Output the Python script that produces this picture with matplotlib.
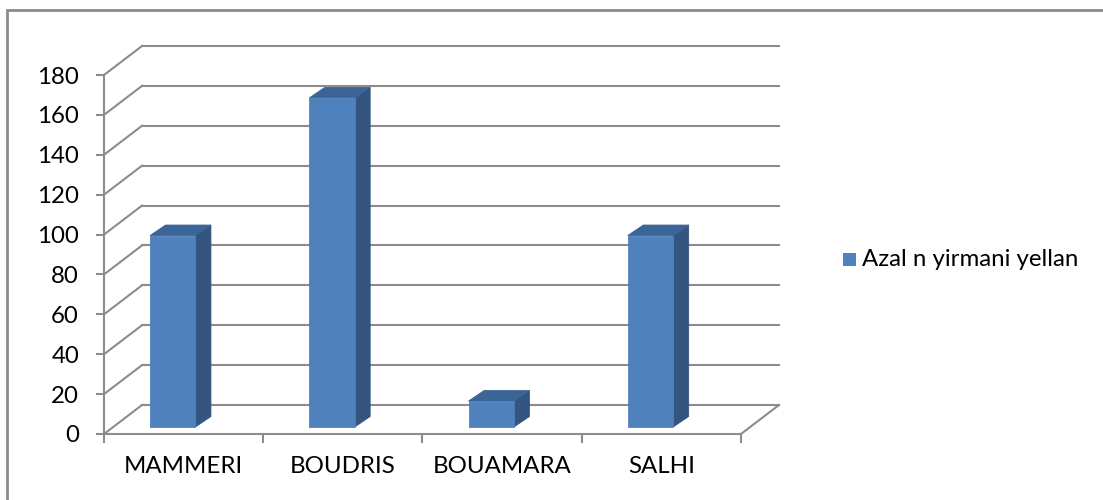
import matplotlib
matplotlib.use('Agg')
import matplotlib.pyplot as plt
from matplotlib.patches import Polygon, Rectangle
from matplotlib.transforms import IdentityTransform
import numpy as np

# data
categories = ['MAMMERI', 'BOUDRIS', 'BOUAMARA', 'SALHI']
values = [96, 165, 13, 96]
y_ticks = [0, 20, 40, 60, 80, 100, 120, 140, 160, 180]
series_name = 'Azal n yirmani yellan'

W, H = 1103, 500
plt.rcParams['font.family'] = ['Lato', 'DejaVu Sans']
FS = 17.3

fig = plt.figure(figsize=(W / 100, H / 100), dpi=100)
# front plane of the fake 3D box
ax = fig.add_axes([104 / W, (H - 434) / H, (741 - 104) / W, (434 - 75) / H])
ax.set_xlim(-0.5, len(categories) - 0.5)
ax.set_ylim(0, 180)
ax.patch.set_visible(False)
for s in ['top', 'right', 'bottom']:
    ax.spines[s].set_visible(False)
ax.spines['left'].set_color('#8c8c8c')
ax.spines['left'].set_linewidth(1.5)
ax.set_yticks(y_ticks)
ax.tick_params(axis='y', length=6, width=1.5, color='#8c8c8c', labelsize=FS, pad=12)
ax.set_xticks([])

grid_c = '#8c8c8c'
depth = np.array([38.0, 29.0])      # floor depth in pixels
bar_depth = np.array([15.5, 10.5])  # depth of each column
front_off = np.array([9.0, 7.0])    # column front face inside the box
bar_w = 0.285
bar_shift = -0.125
front_c, side_c, top_c = '#4F81BD', '#34557F', '#3C6597'

def px(x, y):
    return ax.transData.transform((x, y))

def poly(pts, color, z):
    ax.add_patch(Polygon(np.array(pts), closed=True, facecolor=color, edgecolor=color,
                         linewidth=0.6, transform=IdentityTransform(), zorder=z, clip_on=False))

def line(p, q, z=1, lw=1.5):
    ax.add_line(plt.Line2D([p[0], q[0]], [p[1], q[1]], color=grid_c, lw=lw,
                           transform=IdentityTransform(), zorder=z, clip_on=False))

x0, x1 = -0.5, len(categories) - 0.5
# back wall gridlines + left wall diagonals
for v in y_ticks:
    a = px(x0, v)
    line(a, a + depth)
    line(a + depth, px(x1, v) + depth)
# floor front edge and right diagonal
line(px(x0, 0), px(x1, 0), z=3)
line(px(x1, 0), px(x1, 0) + depth)

# category tick marks and labels
for k in range(len(categories) + 1):
    p = px(x0 + k, 0)
    line(p, p - np.array([0, 8]), z=3)
for i, c in enumerate(categories):
    ax.text(i, -16.5, c, ha='center', va='center', fontsize=FS, color='black', clip_on=False)

# columns
for i, v in enumerate(values):
    l, r = i + bar_shift - bar_w / 2, i + bar_shift + bar_w / 2
    bl = px(l, 0) + front_off
    br = px(r, 0) + front_off
    tl = px(l, v) + front_off
    tr = px(r, v) + front_off
    poly([br, tr, tr + bar_depth, br + bar_depth], side_c, 4)
    poly([tl, tr, tr + bar_depth, tl + bar_depth], top_c, 4)
    poly([bl, br, tr, tl], front_c, 5)

# legend
fig.patches.append(Rectangle((843 / W, (H - 266) / H), 13 / W, 13 / H, transform=fig.transFigure,
                             facecolor=front_c, edgecolor='none'))
fig.text(862 / W, (H - 259) / H, series_name, ha='left', va='center', fontsize=FS, color='black')

# chart area border (top and left visible)
fig.patches.append(Rectangle((7 / W, -0.1), 1.2, (H - 10) / H + 0.1, transform=fig.transFigure,
                             facecolor='none', edgecolor='#8c8c8c', linewidth=2))

fig.savefig('out.png', dpi=100)
